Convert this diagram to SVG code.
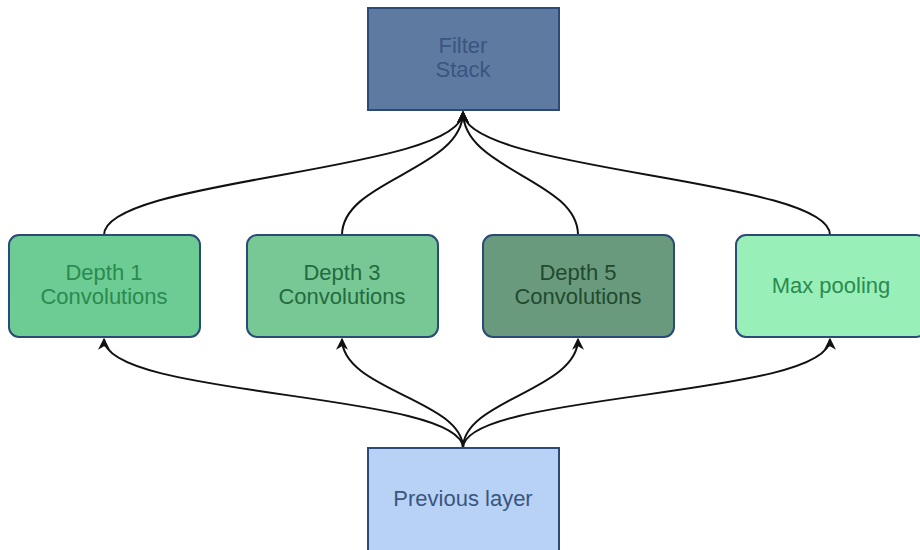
<svg xmlns="http://www.w3.org/2000/svg" width="920" height="550" viewBox="0 0 920 550">
<style>
.box{stroke:#2c4a78;stroke-width:2}
.t{font-family:"Liberation Sans",Arial,sans-serif;font-size:22px;text-anchor:middle}
.c{fill:none;stroke:#111;stroke-width:2}
</style>
<defs>
<marker id="ah" viewBox="0 0 10 10" refX="9" refY="5" markerWidth="6" markerHeight="6" orient="auto" markerUnits="strokeWidth">
<path d="M0,0 L10,5 L0,10 L3,5 Z" fill="#111"/>
</marker>
</defs>
<rect width="920" height="550" fill="#fff"/>
<g id="connectors">
<path class="c" marker-end="url(#ah)" d="M463,448 C463,392 104,398 104,339"/>
<path class="c" marker-end="url(#ah)" d="M463,448 C463,400 342,390 342,339"/>
<path class="c" marker-end="url(#ah)" d="M463,448 C463,400 578,390 578,339"/>
<path class="c" marker-end="url(#ah)" d="M463,448 C463,392 830,398 830,339"/>
<path class="c" marker-end="url(#ah)" d="M104,235 C104,178 463,172 463,112"/>
<path class="c" marker-end="url(#ah)" d="M342,235 C342,180 463,170 463,112"/>
<path class="c" marker-end="url(#ah)" d="M578,235 C578,180 463,170 463,112"/>
<path class="c" marker-end="url(#ah)" d="M830,235 C830,178 463,172 463,112"/>
</g>
<g id="filter-stack">
<rect class="box" x="368" y="8" width="191" height="102" fill="#5f7aa0"/>
<text class="t" x="463" y="53" fill="#3a5580">Filter</text>
<text class="t" x="463" y="77" fill="#3a5580">Stack</text>
</g>
<g id="depth1">
<rect class="box" x="9" y="235" width="191" height="102" rx="10" fill="#6dcc93"/>
<text class="t" x="104" y="280" fill="#2a8a50">Depth 1</text>
<text class="t" x="104" y="304" fill="#2a8a50">Convolutions</text>
</g>
<g id="depth3">
<rect class="box" x="247" y="235" width="191" height="102" rx="10" fill="#78c896"/>
<text class="t" x="342" y="280" fill="#236b40">Depth 3</text>
<text class="t" x="342" y="304" fill="#236b40">Convolutions</text>
</g>
<g id="depth5">
<rect class="box" x="483" y="235" width="191" height="102" rx="10" fill="#6a9a7e"/>
<text class="t" x="578" y="280" fill="#1f4a30">Depth 5</text>
<text class="t" x="578" y="304" fill="#1f4a30">Convolutions</text>
</g>
<g id="max-pooling">
<rect class="box" x="736" y="235" width="190" height="102" rx="10" fill="#98f0b8"/>
<text class="t" x="831" y="293" fill="#2a8a50">Max pooling</text>
</g>
<g id="previous-layer">
<rect class="box" x="368" y="448" width="191" height="110" fill="#b8d2f5"/>
<text class="t" x="463" y="506" fill="#3a5580">Previous layer</text>
</g>
</svg>
